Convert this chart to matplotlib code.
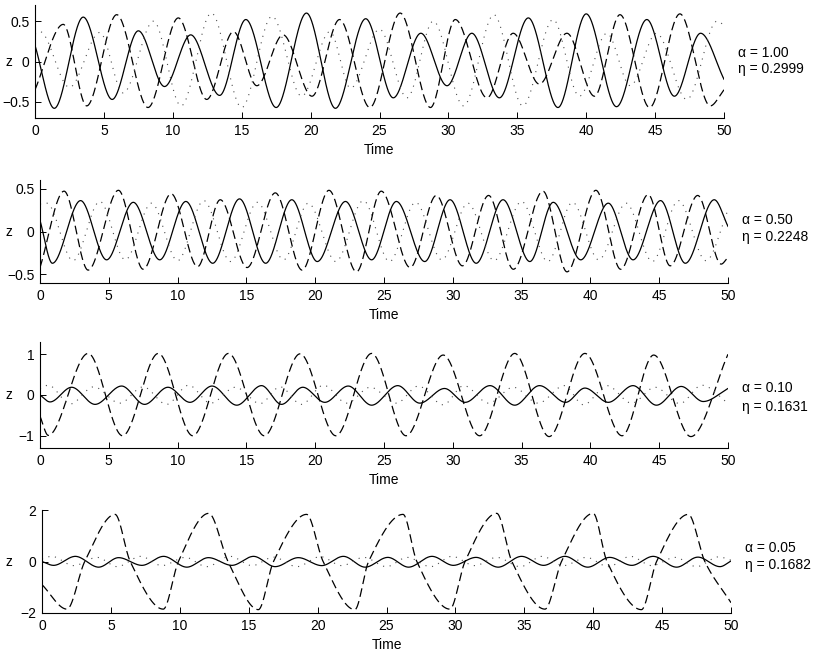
import numpy as np
import matplotlib
matplotlib.use('Agg')
import matplotlib.pyplot as plt
from matplotlib.transforms import blended_transform_factory

plt.rcParams['font.family'] = ['Liberation Sans', 'DejaVu Sans']
plt.rcParams['font.size'] = 10

# ---- data: (time, z) at turning points ----
# panel 1: alpha = 1.00
p1_solid_t = [0, 1.4, 3.5, 5.6, 7.5, 9.4, 11.3, 13.4, 15.3, 17.5, 19.7, 21.8, 24.0, 26.0,
              28.0, 29.9, 31.7, 33.7, 35.8, 37.95, 40.0, 42.2, 44.4, 46.4, 48.3, 50]
p1_solid_z = [0.2, -0.58, 0.55, -0.47, 0.38, -0.31, 0.33, -0.42, 0.52, -0.57, 0.6, -0.58, 0.53, -0.45,
              0.35, -0.30, 0.35, -0.45, 0.54, -0.57, 0.59, -0.56, 0.52, -0.43, 0.35, -0.22]
p1_dash_t = [0, 2.05, 3.75, 5.93, 8.2, 10.4, 12.46, 14.4, 16.1, 18.0, 20.1, 22.1, 24.3, 26.5,
             28.7, 30.5, 32.8, 34.7, 36.6, 38.6, 40.6, 42.45, 44.6, 46.8, 49.0, 50]
p1_dash_z = [-0.35, 0.46, -0.55, 0.58, -0.57, 0.54, -0.47, 0.37, -0.30, 0.33, -0.43, 0.52, -0.57, 0.60,
             -0.57, 0.52, -0.45, 0.35, -0.28, 0.35, -0.43, 0.58, -0.57, 0.59, -0.55, -0.35]
p1_dot_t = [0, 0.36, 2.5, 4.7, 6.4, 8.6, 10.6, 12.8, 15.0, 17.2, 19.35, 21.4, 22.9, 25.0,
            27.0, 28.9, 31.1, 33.3, 35.4, 37.6, 39.5, 41.5, 43.2, 45.1, 47.3, 49.5, 50]
p1_dot_z = [0.34, 0.37, -0.32, 0.36, -0.39, 0.50, -0.55, 0.60, -0.57, 0.56, -0.43, 0.37, -0.33, 0.40,
            -0.45, 0.50, -0.55, 0.58, -0.55, 0.52, -0.43, 0.35, -0.30, 0.35, -0.47, 0.50, 0.45]

# panel 2: alpha = 0.50
p2_solid_t = [0, 0.9, 2.95, 4.84, 6.78, 8.7, 10.6, 12.55, 14.5, 16.4, 18.3, 20.15, 22.2, 24.1,
              25.9, 27.96, 29.8, 31.7, 33.65, 35.6, 37.3, 39.3, 41.3, 43.1, 45.1, 46.9, 49.0, 50]
p2_solid_z = [0.13, -0.37, 0.36, -0.33, 0.34, -0.33, 0.35, -0.37, 0.38, -0.37, 0.37, -0.35, 0.35, -0.33,
              0.35, -0.35, 0.37, -0.37, 0.37, -0.35, 0.34, -0.33, 0.33, -0.33, 0.36, -0.37, 0.37, 0.06]
p2_dash_t = [0, 1.75, 3.5, 5.7, 7.5, 9.53, 11.45, 13.1, 15.05, 17.1, 19.05, 21.0, 23.0, 24.8,
             26.9, 28.8, 30.7, 32.6, 34.4, 36.55, 38.3, 40.4, 42.2, 44.2, 45.8, 47.8, 49.5, 50]
p2_dash_z = [-0.42, 0.47, -0.45, 0.48, -0.44, 0.44, -0.41, 0.37, -0.42, 0.45, -0.45, 0.48, -0.47, 0.47,
             -0.42, 0.42, -0.40, 0.42, -0.44, 0.47, -0.47, 0.48, -0.44, 0.43, -0.40, 0.42, -0.38, -0.30]
p2_dot_t = [0, 0.5, 2.4, 4.35, 6.2, 8.1, 10.0, 11.9, 13.85, 15.8, 17.7, 19.5, 21.5, 23.5,
            25.4, 27.3, 29.2, 31.1, 33.0, 35.0, 36.9, 38.7, 40.6, 42.6, 44.5, 46.4, 48.4, 50]
p2_dot_z = [0.32, 0.33, -0.34, 0.35, -0.33, 0.33, -0.34, 0.36, -0.35, 0.34, -0.33, 0.33, -0.35, 0.36,
            -0.35, 0.34, -0.33, 0.33, -0.34, 0.35, -0.35, 0.34, -0.33, 0.33, -0.35, 0.36, -0.34, 0.25]

# panel 3: alpha = 0.10
p3_solid_t = [0, 0.73, 2.3, 4.0, 5.93, 7.6, 9.3, 10.9, 12.5, 14.3, 16.1, 17.55, 19.1, 20.7, 22.4, 24.1,
              26.0, 27.6, 29.4, 30.9, 32.7, 34.5, 36.3, 38.2, 39.6, 41.3, 43.1, 44.8, 46.6, 48.2, 50]
p3_solid_z = [0.0, -0.17, 0.19, -0.23, 0.22, -0.23, 0.19, -0.18, 0.22, -0.25, 0.23, -0.23, 0.19, -0.18, 0.22, -0.25,
              0.23, -0.20, 0.16, -0.18, 0.23, -0.25, 0.23, -0.18, 0.17, -0.18, 0.23, -0.25, 0.21, -0.16, 0.16]
p3_dash_t = [0, 0.6, 3.5, 6.0, 8.6, 11.1, 13.7, 16.3, 18.9, 21.5, 24.1,
             26.6, 29.3, 31.95, 34.5, 37.0, 39.6, 42.3, 44.6, 47.3, 50]
p3_dash_z = [-0.52, -0.99, 1.02, -1.0, 1.02, -1.0, 1.02, -1.0, 1.01, -1.0, 1.02,
             -1.0, 0.98, -1.0, 1.02, -1.02, 1.02, -1.0, 0.98, -1.02, 1.0]
p3_dot_t = [0, 0.6, 2.2, 3.9, 5.8, 7.5, 9.2, 10.8, 12.4, 14.2, 16.0, 17.45, 19.0, 20.6, 22.3, 24.0,
            25.9, 27.5, 29.3, 30.8, 32.6, 34.4, 36.2, 38.1, 39.5, 41.2, 43.0, 44.7, 46.5, 48.1, 50]
p3_dot_z = [0.15, 0.24, -0.22, 0.20, -0.20, 0.20, -0.23, 0.24, -0.20, 0.19, -0.21, 0.20, -0.23, 0.24, -0.20, 0.19,
            -0.20, 0.22, -0.24, 0.23, -0.20, 0.19, -0.20, 0.23, -0.24, 0.23, -0.20, 0.19, -0.21, 0.24, -0.20]

# panel 4: alpha = 0.05 (dashed curve also has its zero crossings)
p4_solid_t = [0, 0.84, 2.42, 4.11, 5.56, 7.25, 8.82, 10.51, 12.08, 13.78, 15.35, 16.92, 18.6, 20.3, 21.87, 23.45,
              25.1, 26.6, 28.3, 29.85, 31.5, 33.1, 34.8, 36.4, 37.95, 39.6, 41.2, 42.8, 44.35, 46.05, 47.6, 49.2, 50]
p4_solid_z = [0.0, -0.15, 0.20, -0.22, 0.15, -0.15, 0.20, -0.22, 0.15, -0.15, 0.20, -0.20, 0.15, -0.16, 0.20, -0.22,
              0.16, -0.22, 0.20, -0.15, 0.16, -0.22, 0.20, -0.15, 0.20, -0.22, 0.16, -0.15, 0.20, -0.22, 0.17, -0.20, 0.02]
p4_dash_t = [0, 1.81, 3.1, 5.3, 6.4, 8.8, 9.9, 12.1, 13.5, 15.7, 16.8, 19.2, 20.4, 22.7, 23.7,
             26.2, 27.2, 29.6, 30.7, 33.0, 34.1, 36.5, 37.7, 40.0, 41.0, 43.5, 44.6, 46.9, 48.1, 50]
p4_dash_z = [-0.9, -1.85, 0, 1.83, 0, -1.85, 0, 1.87, 0, -1.87, 0, 1.83, 0, -1.87, 0,
             1.83, 0, -1.85, 0, 1.87, 0, -1.85, 0, 1.87, 0, -1.87, 0, 1.83, 0, -1.6]
p4_dot_t = [0, 0.7, 2.3, 4.0, 5.45, 7.15, 8.7, 10.4, 11.95, 13.65, 15.25, 16.8, 18.5, 20.2, 21.75, 23.35,
            25.0, 26.5, 28.2, 29.75, 31.4, 33.0, 34.7, 36.3, 37.85, 39.5, 41.1, 42.7, 44.25, 45.95, 47.5, 49.1, 50]
p4_dot_z = [0.10, 0.20, -0.16, 0.16, -0.20, 0.20, -0.16, 0.16, -0.20, 0.20, -0.16, 0.17, -0.20, 0.19, -0.16, 0.16,
            -0.20, 0.16, -0.20, 0.20, -0.16, 0.16, -0.20, 0.20, -0.16, 0.16, -0.20, 0.20, -0.16, 0.16, -0.20, 0.18, 0.05]

alphas = ['1.00', '0.50', '0.10', '0.05']
etas = ['0.2999', '0.2248', '0.1631', '0.1682']


def smooth(t, z, n=3000):
    # monotone cubic (pchip) through the read turning points
    t = np.asarray(t, float)
    z = np.asarray(z, float)
    assert len(t) == len(z)
    h = np.diff(t)
    d = np.diff(z) / h
    m = np.zeros_like(z)
    for k in range(1, len(z) - 1):
        if d[k - 1] * d[k] > 0:
            w1 = 2 * h[k] + h[k - 1]
            w2 = h[k] + 2 * h[k - 1]
            m[k] = (w1 + w2) / (w1 / d[k - 1] + w2 / d[k])
    m[0] = d[0]
    m[-1] = d[-1]
    ts = np.linspace(t[0], t[-1], n)
    i = np.clip(np.searchsorted(t, ts) - 1, 0, len(h) - 1)
    s = (ts - t[i]) / h[i]
    zs = ((2 * s**3 - 3 * s**2 + 1) * z[i] + (s**3 - 2 * s**2 + s) * h[i] * m[i]
          + (-2 * s**3 + 3 * s**2) * z[i + 1] + (s**3 - s**2) * h[i] * m[i + 1])
    return ts, zs


panels = [
    ((p1_solid_t, p1_solid_z), (p1_dash_t, p1_dash_z), (p1_dot_t, p1_dot_z)),
    ((p2_solid_t, p2_solid_z), (p2_dash_t, p2_dash_z), (p2_dot_t, p2_dot_z)),
    ((p3_solid_t, p3_solid_z), (p3_dash_t, p3_dash_z), (p3_dot_t, p3_dot_z)),
    ((p4_solid_t, p4_solid_z), (p4_dash_t, p4_dash_z), (p4_dot_t, p4_dot_z)),
]

# axes boxes in pixels: left, top, right, bottom
boxes = [(35, 5, 724, 118), (40, 180, 728, 283), (40, 342, 728, 448), (42, 510, 731, 613)]
ylims = [(-0.7, 0.7), (-0.6, 0.6), (-1.3, 1.3), (-2, 2)]
yticks = [[-0.5, 0, 0.5], [-0.5, 0, 0.5], [-1, 0, 1], [-2, 0, 2]]
yticklabels = [['\u22120.5', '0', '0.5'], ['\u22120.5', '0', '0.5'], ['\u22121', '0', '1'], ['\u22122', '0', '2']]
text_pos = [(738, 53, 69), (742, 220, 237), (742, 388, 407), (745, 548, 565)]

W, H = 830, 657
fig = plt.figure(figsize=(W / 100, H / 100), dpi=100)

for k, (solid, dash, dot) in enumerate(panels):
    l, tp, r, b = boxes[k]
    ax = fig.add_axes([l / W, 1 - b / H, (r - l) / W, (b - tp) / H])
    ts, zs = smooth(*solid)
    ax.plot(ts, zs, color='k', lw=0.9)
    ts, zs = smooth(*dash)
    ax.plot(ts, zs, color='k', lw=0.9, dashes=(7, 3.5))
    ts, zs = smooth(*dot)
    ax.plot(ts, zs, color='0.3', lw=0.8, dashes=(1, 5))

    ax.set_xlim(0, 50)
    ax.set_ylim(*ylims[k])
    ax.set_xticks(range(0, 51, 5))
    ax.set_yticks(yticks[k])
    ax.set_yticklabels(yticklabels[k])
    ax.spines['top'].set_visible(False)
    ax.spines['right'].set_visible(False)
    for sp in ('left', 'bottom'):
        ax.spines[sp].set_linewidth(0.8)
    ax.tick_params(direction='in', length=4, width=0.7, labelsize=10, pad=4)
    ax.set_xlabel('Time', fontsize=10, labelpad=4)

    # "z" sits between the figure edge and the tick labels, level with z = 0
    tr = blended_transform_factory(fig.transFigure, ax.transData)
    ax.text(9 / W, 0, 'z', transform=tr, fontsize=10, ha='center', va='center')

    x0, ya, ye = text_pos[k]
    fig.text(x0 / W, 1 - ya / H, '\u03b1 = ' + alphas[k], fontsize=10, va='center', ha='left')
    fig.text(x0 / W, 1 - ye / H, '\u03b7 = ' + etas[k], fontsize=10, va='center', ha='left')

fig.savefig('out.png', dpi=100)
